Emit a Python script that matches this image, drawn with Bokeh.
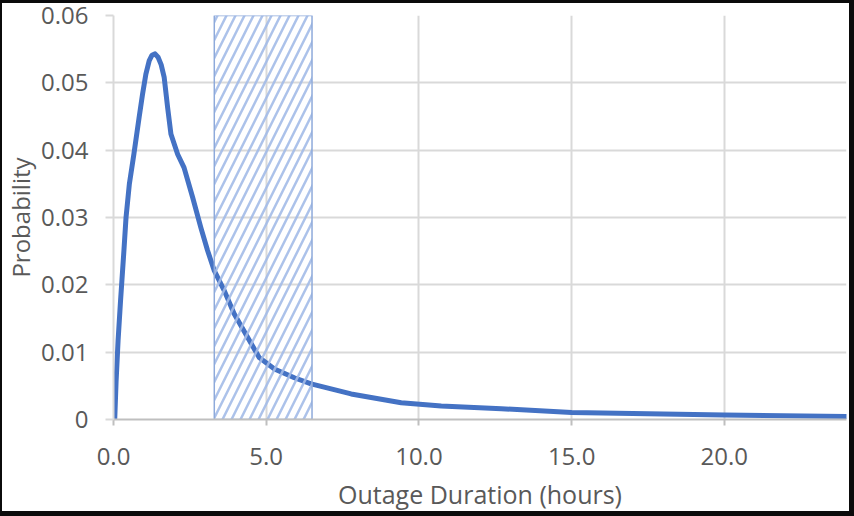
from bokeh.plotting import figure
from bokeh.models import Range1d, FixedTicker, Title
from bokeh.embed import file_html
from bokeh.resources import INLINE

# Outage duration (hours) and probability
duration = [0.04, 0.085, 0.15, 0.23, 0.34, 0.41, 0.52, 0.67, 0.84, 0.95, 1.06, 1.17,
            1.26, 1.36, 1.46, 1.56, 1.66, 1.77, 1.88, 2.10, 2.31, 2.59, 2.86, 3.08,
            3.30, 3.63, 3.95, 4.39, 4.77, 5.27, 5.92, 6.47, 7.78, 9.42, 10.73, 12.7,
            15.0, 18.0, 20.0, 24.0]
probability = [0.0, 0.0057, 0.0117, 0.0176, 0.025, 0.030, 0.035, 0.0395, 0.0449,
               0.0483, 0.0513, 0.0533, 0.0541, 0.0543, 0.0538, 0.0527, 0.0508, 0.0464,
               0.0424, 0.0394, 0.0374, 0.033, 0.0285, 0.0251, 0.0221, 0.0191, 0.0157,
               0.0122, 0.0092, 0.0075, 0.0062, 0.0053, 0.0038, 0.0025, 0.0020, 0.0016,
               0.00105, 0.0008, 0.00065, 0.00045]

# Hatched band
band_start = [3.3]
band_end = [6.5]
band_bottom = [0.0]
band_top = [0.06]

x_ticks = [0, 5, 10, 15, 20]
x_tick_labels = ["0.0", "5.0", "10.0", "15.0", "20.0"]
y_ticks = [0, 0.01, 0.02, 0.03, 0.04, 0.05, 0.06]
y_tick_labels = ["0", "0.01", "0.02", "0.03", "0.04", "0.05", "0.06"]
x_title = "Outage Duration (hours)"
y_title = "Probability"

FONT = "Open Sans"
TEXT = "#595959"
GRID = "#d9d9d9"

p = figure(width=854, height=516, output_backend="svg", toolbar_location=None,
           x_range=Range1d(0, 24), y_range=Range1d(0, 0.06),
           x_axis_label=x_title)
p.styles = {"border-style": "solid", "border-color": "#0b0b0b",
            "border-width": "3px 5px 5px 2px"}
p.min_border_left = 111
p.min_border_right = 10
p.min_border_top = 12
p.min_border_bottom = 100
p.outline_line_color = None
p.background_fill_color = "white"
p.border_fill_color = "white"

p.line(duration, probability, line_color="#4472C4", line_width=5,
       line_join="round", line_cap="round")

p.quad(left=band_start, right=band_end, bottom=band_bottom, top=band_top,
       fill_alpha=0, hatch_pattern="/", hatch_color="#a3bbe8", hatch_weight=2.5,
       hatch_scale=18, hatch_alpha=0.9, line_color="#8eaadb", line_width=1.5)

p.xaxis.ticker = FixedTicker(ticks=x_ticks)
p.xaxis.major_label_overrides = dict(zip(x_ticks, x_tick_labels))
p.yaxis.ticker = FixedTicker(ticks=y_ticks)
p.yaxis.major_label_overrides = dict(zip(y_ticks, y_tick_labels))

p.xgrid.grid_line_color = GRID
p.xgrid.grid_line_width = 2
p.ygrid.grid_line_color = GRID
p.ygrid.grid_line_width = 2

for ax in (p.xaxis, p.yaxis):
    ax.major_label_text_font = FONT
    ax.major_label_text_color = TEXT
    ax.major_label_text_font_size = "24px"
    ax.axis_label_text_font = FONT
    ax.axis_label_text_color = TEXT
    ax.axis_label_text_font_size = "25px"
    ax.axis_label_text_font_style = "normal"
    ax.minor_tick_line_color = None
    ax.major_tick_in = 0

p.xaxis.axis_line_color = "#bfbfbf"
p.xaxis.axis_line_width = 2
p.xaxis.major_tick_line_color = "#bfbfbf"
p.xaxis.major_tick_line_width = 2
p.xaxis.major_tick_out = 6
p.xaxis.major_label_standoff = 22
p.xaxis.axis_label_standoff = 9

p.yaxis.axis_line_color = GRID
p.yaxis.axis_line_width = 2
p.yaxis.major_tick_line_color = GRID
p.yaxis.major_tick_line_width = 2
p.yaxis.major_tick_out = 8
p.yaxis.major_label_standoff = 17

p.add_layout(Title(text=y_title, align="center", vertical_align="top",
                   text_font=FONT, text_font_size="24px", text_font_style="normal",
                   text_color=TEXT, standoff=0, offset=0), "left")

open("out.html", "w").write(file_html(p, INLINE))
